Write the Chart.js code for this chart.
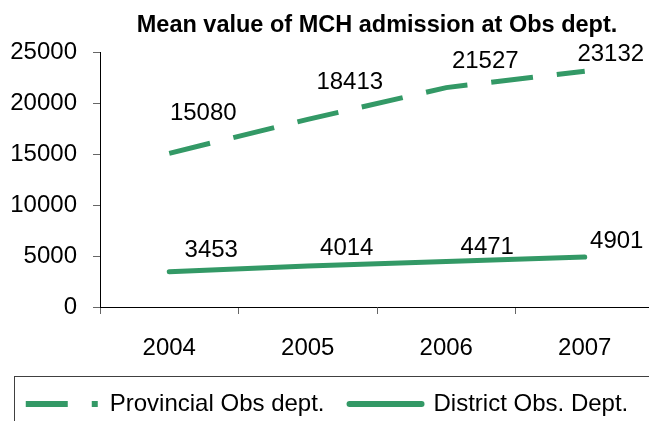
<!DOCTYPE html>
<html>
<head>
<meta charset="utf-8">
<script src="https://cdn.jsdelivr.net/npm/chart.js@4/dist/chart.umd.min.js"></script>
<style>
    html, body { margin: 0; padding: 0; background: #fff; overflow: hidden; }
    #wrap { width: 649px; height: 421px; overflow: hidden; }
</style>
</head>
<body>
<div id="wrap"><canvas id="chart" width="660" height="440"></canvas></div>
<script>
var years = ['2004', '2005', '2006', '2007'];
var provincial = [15080, 18413, 21527, 23132];
var district = [3453, 4014, 4471, 4901];
var yTicks = [0, 5000, 10000, 15000, 20000, 25000];

var green = '#339966';

// the excel labels were dragged by hand, so each one has its own nudge from its point
var labelNudge = [
    [[34, -40], [42, -37], [39, -26], [26, -17]],
    [[42, -21], [39, -18], [41, -14], [32, -16]]
];

var valueLabels = {
    id: 'valueLabels',
    afterDatasetsDraw: function(chart) {
        var ctx = chart.ctx;
        ctx.save();
        ctx.font = '24px "Liberation Sans"';
        ctx.fillStyle = '#000';
        ctx.textAlign = 'center';
        ctx.textBaseline = 'middle';
        chart.data.datasets.forEach(function(ds, i) {
            var meta = chart.getDatasetMeta(i);
            meta.data.forEach(function(pt, j) {
                var n = labelNudge[i][j];
                ctx.fillText(String(ds.data[j]), pt.x + n[0], pt.y + n[1]);
            });
        });
        ctx.restore();
    }
};

// frame round the legend
var legendFrame = {
    id: 'legendFrame',
    afterDraw: function(chart) {
        var lg = chart.legend;
        var ctx = chart.ctx;
        ctx.save();
        ctx.strokeStyle = '#404040';
        ctx.lineWidth = 1;
        ctx.strokeRect(14.5, Math.round(lg.top) + 9.5, 700, 100);
        ctx.restore();
    }
};

Chart.defaults.font.family = '"Liberation Sans", Arial, sans-serif';
Chart.defaults.color = '#000';

var context = document.getElementById('chart').getContext('2d');
new Chart(context, {
    type: 'line',
    data: {
        labels: years,
        datasets: [
            {
                label: 'Provincial Obs dept.',
                data: provincial,
                borderColor: green,
                backgroundColor: green,
                borderWidth: 5,
                borderDash: [42, 24],
                borderCapStyle: 'butt',
                pointRadius: 0,
                tension: 0
            },
            {
                label: 'District Obs. Dept.',
                data: district,
                borderColor: green,
                backgroundColor: green,
                borderWidth: 5,
                borderCapStyle: 'round',
                pointRadius: 0,
                tension: 0
            }
        ]
    },
    options: {
        responsive: false,
        animation: false,
        layout: { padding: { left: 0, right: 6, top: 0, bottom: 14 } },
        plugins: {
            title: {
                display: true,
                text: 'Mean value of MCH admission at Obs dept.',
                fullSize: false,
                color: '#000',
                font: { size: 23.5, weight: 'bold' },
                padding: { top: 11, bottom: 13 }
            },
            legend: {
                position: 'bottom',
                labels: {
                    usePointStyle: true,
                    pointStyle: 'line',
                    pointStyleWidth: 72,
                    boxHeight: 10,
                    padding: 25,
                    color: '#000',
                    font: { size: 24 },
                    // point style legend takes the point's style, so put the line's dash and cap back
                    generateLabels: function(chart) {
                        var items = Chart.defaults.plugins.legend.labels.generateLabels(chart);
                        items.forEach(function(item) {
                            var ds = chart.data.datasets[item.datasetIndex];
                            item.lineDash = ds.borderDash || [];
                            item.lineCap = ds.borderCapStyle;
                            item.lineWidth = 6;
                            item.strokeStyle = ds.borderColor;
                        });
                        return items;
                    }
                }
            },
            tooltip: { enabled: false }
        },
        scales: {
            x: {
                offset: true,
                grid: { offset: true, drawOnChartArea: false, drawTicks: true, tickLength: 7, color: '#666' },
                border: { color: '#000', width: 1 },
                ticks: { padding: 20, font: { size: 24 }, color: '#000', maxRotation: 0 },
                afterFit: function(scale) { scale.height = 60; }
            },
            y: {
                min: 0,
                max: 25000,
                afterBuildTicks: function(scale) {
                    scale.ticks = yTicks.map(function(v) { return { value: v }; });
                },
                grid: { drawOnChartArea: false, drawTicks: true, tickLength: 7, color: '#666' },
                border: { color: '#000', width: 1 },
                ticks: {
                    padding: 16,
                    font: { size: 24 },
                    color: '#000',
                    callback: function(value) { return String(value); }
                },
                afterFit: function(scale) { scale.width = 100; }
            }
        }
    },
    plugins: [valueLabels, legendFrame]
});
</script>
</body>
</html>
